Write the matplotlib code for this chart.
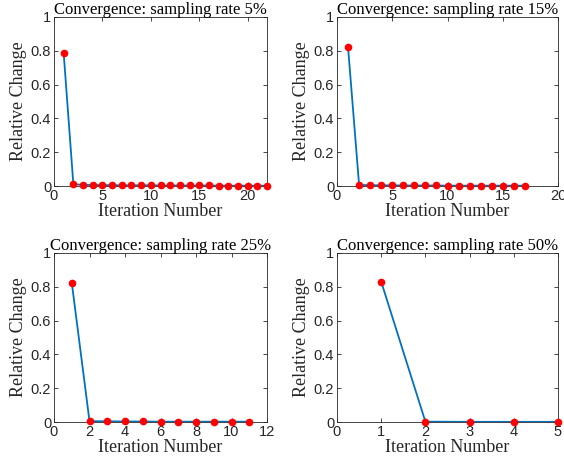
import matplotlib
matplotlib.use('Agg')
import matplotlib.pyplot as plt

# relative change per iteration
rates = ['5%', '15%', '25%', '50%']
change_5 = [0.785, 0.01, 0.007, 0.006, 0.005, 0.005, 0.004, 0.004, 0.004, 0.004, 0.003,
            0.003, 0.003, 0.003, 0.003, 0.003, 0.002, 0.002, 0.002, 0.002, 0.002, 0.002]
change_15 = [0.82, 0.006, 0.005, 0.004, 0.004, 0.003, 0.003, 0.003, 0.003, 0.002, 0.002,
             0.002, 0.002, 0.002, 0.002, 0.002, 0.002]
change_25 = [0.825, 0.005, 0.004, 0.003, 0.003, 0.002, 0.002, 0.002, 0.002, 0.002, 0.002]
change_50 = [0.83, 0.002, 0.001, 0.001, 0.001]
xmax = [22, 20, 12, 5]
xticks = [[0, 5, 10, 15, 20], [0, 5, 10, 15, 20], [0, 2, 4, 6, 8, 10, 12], [0, 1, 2, 3, 4, 5]]
all_changes = [change_5, change_15, change_25, change_50]

fig = plt.figure(figsize=(5.64, 4.61), dpi=100)
W, H = 564, 461
boxes = [(54, 17, 267, 186), (337, 17, 558, 186), (54, 253, 267, 422), (337, 253, 558, 422)]

axcol = '#262626'
for i, (l, t, r, b) in enumerate(boxes):
    ax = fig.add_axes([l / W, 1 - b / H, (r - l) / W, (b - t) / H])
    vals = all_changes[i]
    it = list(range(1, len(vals) + 1))
    ax.plot(it, vals, '-', color='#0072BD', lw=1.3, zorder=2)
    ax.plot(it, vals, 'o', color='red', ms=4.5, zorder=3, clip_on=False)
    ax.set_xlim(0, xmax[i])
    ax.set_ylim(0, 1)
    ax.set_xticks(xticks[i])
    ax.set_yticks([0, 0.2, 0.4, 0.6, 0.8, 1])
    ax.set_yticklabels(['0', '0.2', '0.4', '0.6', '0.8', '1'])
    ax.tick_params(direction='in', top=True, right=True, length=3, width=0.6,
                   colors=axcol, labelsize=10.5, pad=2)
    for lab in ax.get_xticklabels() + ax.get_yticklabels():
        lab.set_fontfamily('Liberation Sans')
    for s in ax.spines.values():
        s.set_color(axcol)
        s.set_linewidth(0.6)
    ax.set_title('Convergence: sampling rate ' + rates[i], fontsize=12,
                 family='Liberation Serif', pad=2)
    ax.set_xlabel('Iteration Number', fontsize=13, family='Liberation Serif',
                  color=axcol, labelpad=0)
    ax.set_ylabel('Relative Change', fontsize=13, family='Liberation Serif',
                  color=axcol, labelpad=3)

fig.savefig('out.png', dpi=100)
